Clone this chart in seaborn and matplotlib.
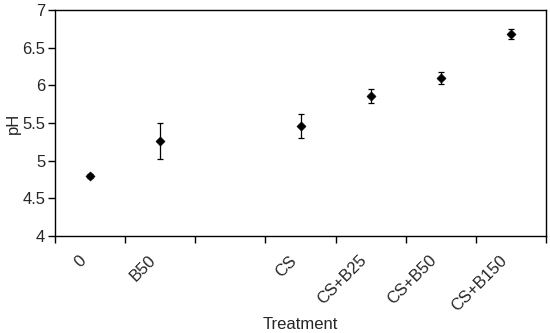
import numpy as np
import pandas as pd
import matplotlib
matplotlib.use("Agg")
import matplotlib.pyplot as plt
import matplotlib.transforms as mtrans
import seaborn as sns
from matplotlib.ticker import FixedLocator

# category slots on the x axis (third slot is left empty in the original)
categories = ["0", "B50", "", "CS", "CS+B25", "CS+B50", "CS+B150"]
treatments = ["0", "B50", "CS", "CS+B25", "CS+B50", "CS+B150"]
ph_mean = [4.80, 5.26, 5.46, 5.86, 6.10, 6.68]
ph_err = [0.03, 0.24, 0.155, 0.09, 0.08, 0.065]

sns.set_style("white")
plt.rcParams["font.family"] = ["Liberation Sans", "DejaVu Sans"]

df = pd.DataFrame({"treatment": treatments, "pH": ph_mean, "err": ph_err})
df["pos"] = [categories.index(t) for t in df["treatment"]]

fig = plt.figure(figsize=(5.5, 3.33), dpi=100)
ax = fig.add_axes([0.1, 0.291, 0.893, 0.679])

ax.errorbar(df["pos"], df["pH"], yerr=df["err"], fmt="none",
            ecolor="black", elinewidth=0.9, capsize=2.3, capthick=0.9, zorder=2)
sns.scatterplot(data=df, x="pos", y="pH", marker="D", color="black",
                s=22, edgecolor="black", ax=ax, zorder=3, legend=False)

ax.set_xlim(-0.5, len(categories) - 0.5)
ax.set_ylim(4, 7)
ax.set_yticks([4, 4.5, 5, 5.5, 6, 6.5, 7])
ax.set_yticklabels(["4", "4.5", "5", "5.5", "6", "6.5", "7"])

# labels sit at category centres, tick marks at the boundaries
ax.set_xticks(range(len(categories)))
ax.set_xticklabels(categories, rotation=45, ha="right", rotation_mode="anchor")
ax.xaxis.set_minor_locator(FixedLocator(np.arange(-0.5, len(categories), 1.0)))
ax.tick_params(axis="x", which="major", bottom=True, length=0, pad=12, labelsize=12)
ax.tick_params(axis="x", which="minor", bottom=True, length=5, width=1,
               direction="out", color="black")
ax.tick_params(axis="y", left=True, length=5, width=1, direction="out",
               color="black", labelsize=12, pad=2)

shift = mtrans.ScaledTranslation(-12 / 100, 0, fig.dpi_scale_trans)
for lbl in ax.get_xticklabels():
    lbl.set_transform(lbl.get_transform() + shift)

for sp in ax.spines.values():
    sp.set_color("black")
    sp.set_linewidth(1)

ax.set_xlabel("Treatment", fontsize=12, labelpad=2)
ax.set_ylabel("pH", fontsize=12, labelpad=1)

fig.savefig("out.png", dpi=100)
